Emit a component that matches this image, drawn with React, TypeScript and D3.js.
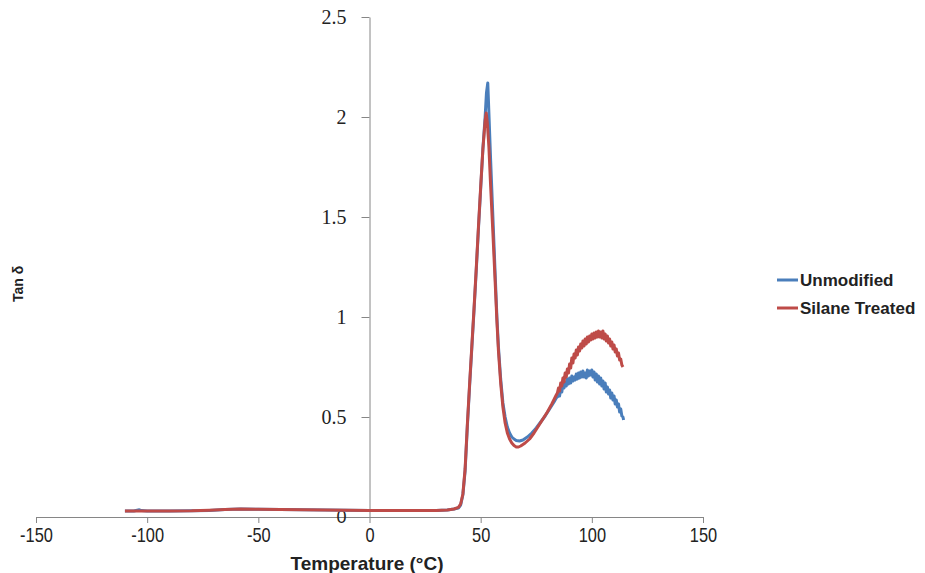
import React, { useRef, useEffect } from "react";
import * as d3 from "d3";

// Unmodified (blue) - temperature (°C) and tan delta
const unmodTemp = [
  -110, -106, -103.5, -102.5, -100, -90, -80, -72, -65, -58, -50, -40, -30, -20, -10, 0, 10, 20, 30, 35, 38,
  40, 41, 42, 43, 44, 45, 46, 47, 48, 49, 50, 51, 52, 52.6, 53.2, 53.7, 54.5, 55.5, 56.5, 57.3, 58, 59, 60,
  61, 62, 63, 64, 65, 66, 67.5, 69, 71, 73, 75, 77, 79, 81, 83, 84,
  84.5, 85, 85.5, 86, 86.5, 87, 87.5, 88, 88.5, 89, 89.5, 90, 90.5, 91, 91.5, 92, 92.5, 93, 93.5, 94, 94.5,
  95, 95.5, 96, 96.5, 97, 97.5, 98, 98.5, 99, 99.5, 100, 100.5, 101, 101.5, 102, 102.5, 103, 103.5, 104,
  104.5, 105, 105.5, 106, 106.5, 107, 107.5, 108, 108.5, 109, 109.5, 110, 110.5, 111, 111.5, 112, 112.5,
  113, 113.5, 114, 114.3,
];
const unmodTan = [
  0.03, 0.03, 0.036, 0.032, 0.03, 0.03, 0.031, 0.033, 0.038, 0.04, 0.039, 0.037, 0.036, 0.035, 0.034, 0.033,
  0.032, 0.032, 0.033, 0.035, 0.04,
  0.045, 0.06, 0.11, 0.23, 0.45, 0.65, 0.84, 1.03, 1.23, 1.44, 1.64, 1.84, 2.0, 2.12, 2.17, 2.02, 1.78, 1.5,
  1.22, 1.0, 0.85, 0.69, 0.57, 0.5, 0.45, 0.42, 0.4, 0.39, 0.383, 0.38, 0.385, 0.4, 0.42, 0.445, 0.475, 0.505,
  0.54, 0.575, 0.595,
  0.6, 0.62, 0.605, 0.64, 0.625, 0.665, 0.645, 0.675, 0.655, 0.69, 0.665, 0.695, 0.67, 0.705, 0.68, 0.7,
  0.685, 0.715, 0.69, 0.72, 0.695, 0.725, 0.7, 0.73, 0.7, 0.72, 0.695, 0.735, 0.705, 0.73, 0.71, 0.735, 0.7,
  0.725, 0.685, 0.715, 0.675, 0.705, 0.665, 0.695, 0.655, 0.68, 0.64, 0.67, 0.625, 0.65, 0.615, 0.635,
  0.595, 0.62, 0.585, 0.605, 0.565, 0.585, 0.55, 0.565, 0.525, 0.54, 0.505, 0.5, 0.485,
];

// Silane treated (red)
const silaneTemp = [
  -110, -105, -100, -90, -80, -72, -65, -58, -50, -40, -30, -20, -10, 0, 10, 20, 30, 35, 38,
  40, 41, 42, 43, 44, 45, 46, 47, 48, 49, 50, 51, 52, 52.5, 53, 53.7, 54.5, 55.5, 56.5, 57.3, 58, 59, 60,
  61, 62, 63, 64, 65, 66, 67, 68, 70, 72, 74, 76, 78, 80, 82, 84,
  84.5, 85, 85.5, 86, 86.5, 87, 87.5, 88, 88.5, 89, 89.5, 90, 90.5, 91, 91.5, 92, 92.5, 93, 93.5, 94, 94.5,
  95, 95.5, 96, 96.5, 97, 97.5, 98, 98.5, 99, 99.5, 100, 100.5, 101, 101.5, 102, 102.5, 103, 103.5, 104,
  104.5, 105, 105.5, 106, 106.5, 107, 107.5, 108, 108.5, 109, 109.5, 110, 110.5, 111, 111.5, 112, 112.5,
  113, 113.5, 114,
];
const silaneTan = [
  0.03, 0.03, 0.03, 0.03, 0.031, 0.034, 0.038, 0.04, 0.039, 0.037, 0.036, 0.035, 0.034, 0.033, 0.032, 0.032,
  0.033, 0.035, 0.04,
  0.048, 0.065, 0.115, 0.24, 0.46, 0.66, 0.85, 1.04, 1.24, 1.45, 1.65, 1.84, 1.98, 2.02, 1.97, 1.85, 1.65,
  1.42, 1.18, 0.98, 0.83, 0.67, 0.55, 0.47, 0.42, 0.39, 0.37, 0.357, 0.35, 0.35, 0.355, 0.37, 0.39, 0.42,
  0.455, 0.49, 0.525, 0.565, 0.61,
  0.62, 0.645, 0.63, 0.67, 0.655, 0.695, 0.675, 0.72, 0.7, 0.74, 0.72, 0.765, 0.745, 0.795, 0.77, 0.815,
  0.795, 0.835, 0.81, 0.85, 0.83, 0.865, 0.845, 0.88, 0.855, 0.89, 0.865, 0.9, 0.875, 0.905, 0.885, 0.915,
  0.89, 0.92, 0.895, 0.925, 0.9, 0.93, 0.9, 0.925, 0.895, 0.93, 0.89, 0.915, 0.88, 0.905, 0.87, 0.89, 0.855,
  0.875, 0.84, 0.86, 0.825, 0.84, 0.805, 0.82, 0.785, 0.79, 0.76, 0.75,
];

const xTicks = [-150, -100, -50, 0, 50, 100, 150];
const yTicks = [0, 0.5, 1, 1.5, 2, 2.5];
const seriesNames = ["Unmodified", "Silane Treated"];
const seriesColors = ["#4A7EBB", "#BE4B48"];

const App = () => {
  const svgRef = useRef<SVGSVGElement>(null);

  useEffect(() => {
    const svg = d3.select(svgRef.current);
    svg.selectAll("*").remove();

    var x = d3.scaleLinear().domain([-150, 150]).range([36, 703]);
    var y = d3.scaleLinear().domain([0, 2.5]).range([517, 17]);

    // x axis
    const xg = svg
      .append("g")
      .attr("transform", `translate(0,${y(0)})`)
      .call(d3.axisBottom(x).tickValues(xTicks).tickSize(6).tickPadding(5).tickSizeOuter(0).tickFormat((d: any) => String(d)));
    xg.selectAll("path, line").attr("stroke", "#868686");
    xg.selectAll("text")
      .attr("fill", "#222")
      .attr("transform", "scale(0.82,1)")
      .style("font-family", "'Liberation Sans', Arial, sans-serif")
      .style("font-size", "20px");

    // y axis
    const yg = svg
      .append("g")
      .attr("transform", `translate(${x(0)},0)`)
      .call(d3.axisLeft(y).tickValues(yTicks).tickSize(8).tickPadding(15).tickSizeOuter(0).tickFormat((d: any) => String(d)));
    yg.selectAll("path, line").attr("stroke", "#868686");
    yg.selectAll("text")
      .attr("fill", "#222")
      .style("font-family", (d: any) => (d === 0 ? "'Liberation Sans', sans-serif" : "'Liberation Serif', serif"))
      .style("font-size", (d: any) => (d === 0 ? "18px" : "20px"));

    // lines
    const line = d3
      .line<[number, number]>()
      .x((d) => x(d[0]))
      .y((d) => y(d[1]));

    const series = [
      d3.zip(unmodTemp, unmodTan) as [number, number][],
      d3.zip(silaneTemp, silaneTan) as [number, number][],
    ];
    series.forEach((pts, i) => {
      svg
        .append("path")
        .datum(pts)
        .attr("fill", "none")
        .attr("stroke", seriesColors[i])
        .attr("stroke-width", 3)
        .attr("stroke-linejoin", "round")
        .attr("d", line);
    });

    // legend
    seriesNames.forEach((name, i) => {
      const ly = 280 + i * 28;
      svg.append("line").attr("x1", 777).attr("x2", 798).attr("y1", ly).attr("y2", ly).attr("stroke", seriesColors[i]).attr("stroke-width", 3);
      svg
        .append("text")
        .attr("x", 800)
        .attr("y", ly + 6)
        .style("font-family", "'Liberation Sans', Arial, sans-serif")
        .style("font-weight", "bold")
        .style("font-size", "17px")
        .attr("fill", "#222")
        .text(name);
    });

    // axis titles
    svg
      .append("text")
      .attr("x", 367)
      .attr("y", 570)
      .attr("text-anchor", "middle")
      .style("font-family", "'Liberation Sans', Arial, sans-serif")
      .style("font-weight", "bold")
      .style("font-size", "19px")
      .attr("fill", "#222")
      .text("Temperature (°C)");

    svg
      .append("text")
      .attr("transform", "translate(23,284) rotate(-90)")
      .attr("text-anchor", "middle")
      .style("font-family", "'Liberation Sans', Arial, sans-serif")
      .style("font-weight", "bold")
      .style("font-size", "14px")
      .attr("fill", "#222")
      .text("Tan δ");
  }, []);

  return (
    <svg
      ref={svgRef}
      width={925}
      height={573}
      style={{ position: "absolute", left: 0, top: 0, background: "#fff" }}
    ></svg>
  );
};

export default App;
